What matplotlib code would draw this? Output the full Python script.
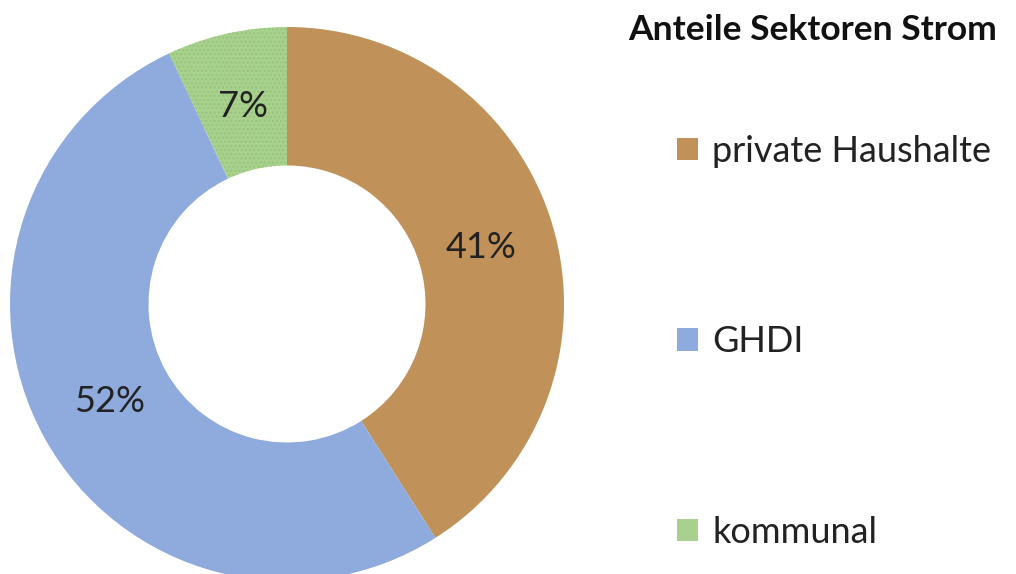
import matplotlib.pyplot as plt
from matplotlib.patches import Patch

# data
sectors = ['private Haushalte', 'GHDI', 'kommunal']
shares = [41, 52, 7]
colors = ['#C0925A', '#8FAADC', '#A9D18E']
legend_title = 'Anteile Sektoren Strom'

plt.rcParams['font.family'] = ['Lato', 'DejaVu Sans']

fig = plt.figure(figsize=(10.16, 5.74), dpi=100)
# donut axes: centre ~ (287, 304) px, radius ~ 277 px
ax = fig.add_axes([10 / 1016, -7 / 574, 554 / 1016, 554 / 574])

wedges, texts, autotexts = ax.pie(
    shares, colors=colors, startangle=90, counterclock=False,
    radius=1.0, wedgeprops=dict(width=0.5, edgecolor='none'),
    autopct='%d%%', pctdistance=0.73,
    textprops=dict(fontsize=26, color='#222222'))
wedges[2].set_hatch('....')
wedges[2].set_edgecolor('#98C47C')
wedges[2].set_linewidth(0)
ax.set_xlim(-1, 1)
ax.set_ylim(-1, 1)

# Legendentitel separat
fig.text(628 / 1016, 1 - 30 / 574, legend_title, fontsize=25.5, fontweight='bold',
         color='#111111', ha='left', va='center')

handles = [Patch(facecolor=c, edgecolor='none') for c in colors]
leg = fig.legend(handles, sectors, loc='upper left',
                 bbox_to_anchor=(677 / 1016, 1 - 135 / 574),
                 frameon=False, fontsize=26,
                 labelspacing=4.36, handlelength=0.58, handleheight=0.58,
                 handletextpad=0.39, borderaxespad=0, borderpad=0)
for t in leg.get_texts():
    t.set_color('#222222')

fig.savefig('out.png', dpi=100)
